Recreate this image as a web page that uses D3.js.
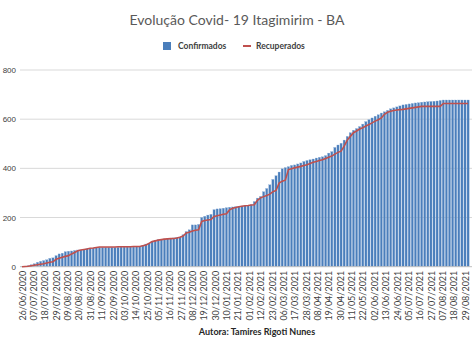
<!DOCTYPE html>
<html><head><meta charset="utf-8">
<script src="https://cdn.jsdelivr.net/npm/d3@7"></script>
<style>
body{margin:0;background:#fff;}
svg{display:block;font-family:Lato,"Open Sans",sans-serif;}
</style></head>
<body>
<svg id="c" width="473" height="355"></svg>
<script>
const title = "Evolução Covid- 19 Itagimirim - BA";
const seriesNames = ["Confirmados", "Recuperados"];
const startDate = "26/06/2020";
const stepDays = 3;
const confirmados = [1,2,4,8,12,18,22,25,28,34,36,45,52,55,61,63,64,66,68,68,
70,74,75,76,77,79,79,79,79,79,79,79,80,80,80,80,80,81,81,85,
92,96,103,108,110,112,113,115,116,117,119,121,130,143,150,170,170,172,200,205,
210,213,232,235,236,238,240,242,243,244,246,247,248,249,252,265,279,286,305,318,
333,355,370,385,398,403,407,412,414,418,422,428,432,435,438,442,445,447,452,462,
468,485,495,502,515,530,545,555,562,570,580,590,598,605,612,618,625,630,636,642,
646,650,654,658,660,662,664,666,667,669,670,671,672,673,674,676,678,678,678,678,
678,678,678,678,678];
const recuperados = [0,1,2,4,6,8,10,12,15,18,20,30,34,38,42,45,52,58,65,68,
70,72,75,76,78,80,80,80,80,80,80,81,81,81,81,81,82,82,82,85,
88,95,102,105,108,110,112,113,114,115,117,120,125,137,140,145,148,150,184,188,
190,192,204,207,210,213,215,231,238,241,244,246,248,249,251,252,270,280,285,290,
295,305,310,340,348,352,395,398,402,405,408,412,415,420,425,428,432,435,440,445,
450,458,465,470,490,515,530,545,552,560,565,572,578,585,592,598,605,620,628,632,
635,637,639,640,642,644,646,648,650,652,652,652,652,652,652,652,664,664,664,664,
664,664,664,664,664];
const xTickLabels = ["26/06/2020","07/07/2020","18/07/2020","29/07/2020","09/08/2020","20/08/2020","31/08/2020","11/09/2020","22/09/2020","03/10/2020","14/10/2020","25/10/2020","05/11/2020","16/11/2020","27/11/2020","08/12/2020","19/12/2020","30/12/2020","10/01/2021","21/01/2021","01/02/2021","12/02/2021","23/02/2021","06/03/2021","17/03/2021","28/03/2021","08/04/2021","19/04/2021","30/04/2021","11/05/2021","22/05/2021","02/06/2021","13/06/2021","24/06/2021","05/07/2021","16/07/2021","27/07/2021","07/08/2021","18/08/2021","29/08/2021"];
const yTicks = [0,200,400,600,800];
const author = "Autora: Tamires Rigoti Nunes";

const parse = d3.utcParse("%d/%m/%Y");
const fmt = d3.utcFormat("%d/%m/%Y");
const t0 = parse(startDate);
const dates = confirmados.map((_, i) => d3.utcDay.offset(t0, i * stepDays));
const data = dates.map((d, i) => ({date: d, c: confirmados[i], r: recuperados[i]}));

const svg = d3.select("#c");
const pLeft = 22, pRight = 472, pTop = 70, pBottom = 266.7;
const lastTick = parse(xTickLabels[xTickLabels.length - 1]);
const x = d3.scaleUtc().domain([t0, lastTick]).range([pLeft, 465]);
const y = d3.scaleLinear().domain([0, 800]).range([pBottom, pTop]);

// grid
svg.append("g").selectAll("line").data(yTicks.filter(v => v > 0)).join("line")
  .attr("x1", pLeft - 2).attr("x2", pRight).attr("y1", d => y(d)).attr("y2", d => y(d))
  .attr("stroke", "#d9d9d9").attr("stroke-width", 1);

// y labels
svg.append("g").selectAll("text").data(yTicks).join("text")
  .attr("x", 16).attr("y", d => y(d) + 3).attr("text-anchor", "end")
  .attr("font-family", "'Liberation Sans',Arial,sans-serif")
  .attr("font-size", 8).attr("fill", "#404040").text(d => d);

// bars
const bw = 2.2;
svg.append("g").selectAll("rect").data(data).join("rect")
  .attr("x", d => x(d.date) - bw / 2).attr("width", bw)
  .attr("y", d => y(d.c)).attr("height", d => y(0) - y(d.c))
  .attr("fill", "#4a7ebb").attr("stroke", "#8fb0d8").attr("stroke-width", 0.3);

// baseline
svg.append("line").attr("x1", pLeft - 2).attr("x2", pRight).attr("y1", pBottom).attr("y2", pBottom)
  .attr("stroke", "#bfbfbf");

// line
svg.append("path").datum(data)
  .attr("d", d3.line().x(d => x(d.date)).y(d => y(d.r)))
  .attr("fill", "none").attr("stroke", "#c0504d").attr("stroke-width", 1.6);

// x axis
const xAxis = d3.axisBottom(x).tickValues(xTickLabels.map(parse)).tickFormat(fmt).tickSize(0);
const gx = svg.append("g").attr("transform", `translate(0,${pBottom})`).call(xAxis);
gx.select(".domain").remove();
gx.selectAll("text").attr("font-size", 9).attr("fill", "#404040")
  .attr("font-family", "Lato,'Open Sans',sans-serif")
  .attr("transform", "rotate(-90)").attr("text-anchor", "end")
  .attr("x", -4).attr("y", 0).attr("dy", "0.35em");

// title
svg.append("text").attr("x", 237).attr("y", 25).attr("text-anchor", "middle")
  .attr("font-size", 14).attr("fill", "#595959").text(title);

// legend
const lg = svg.append("g").attr("transform", "translate(163,47)");
lg.append("rect").attr("x", 0).attr("y", -5).attr("width", 8).attr("height", 8).attr("fill", "#4a7ebb");
lg.append("text").attr("x", 15).attr("y", 2).attr("font-size", 8.5).attr("font-weight", "bold").attr("fill", "#404040").text(seriesNames[0]);
lg.append("line").attr("x1", 80).attr("x2", 88).attr("y1", -1).attr("y2", -1).attr("stroke", "#c0504d").attr("stroke-width", 2);
lg.append("text").attr("x", 93).attr("y", 2).attr("font-size", 8.5).attr("font-weight", "bold").attr("fill", "#404040").text(seriesNames[1]);

// author
svg.append("text").attr("x", 257).attr("y", 335).attr("text-anchor", "middle")
  .attr("font-size", 9).attr("font-weight", "bold").attr("fill", "#262626").text(author);
</script>
</body></html>
